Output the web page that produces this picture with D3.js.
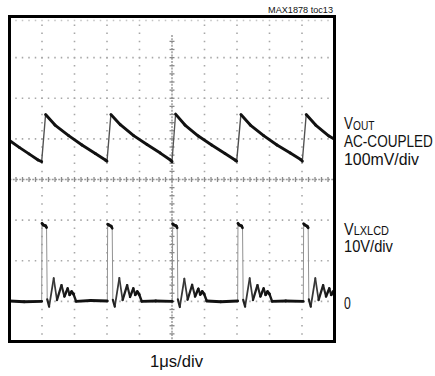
<!DOCTYPE html>
<html>
<head>
<meta charset="utf-8">
<script src="https://cdn.jsdelivr.net/npm/d3@7"></script>
<style>
  html, body { margin: 0; padding: 0; background: #fff; }
  svg { display: block; }
  text { font-family: "Liberation Sans Narrow", "Arial Narrow", "Liberation Sans", Arial, sans-serif; fill: #111; }
</style>
</head>
<body>
<div id="chart"></div>
<script>
// horizontal: 10 divisions of 1us
var timeDomain = [0, 10];
var divCountX = 10;
var divCountY = 8;

// VOUT ripple, AC coupled [time us, mV]
var voutTrace = [
  [0.00, -9], [0.30, -26], [0.60, -42], [0.88, -57], [0.99, -61],
  [1.11, 55], [1.40, 29], [1.82, 3], [2.23, -20], [2.64, -41], [2.95, -57], [3.00, -60],
  [3.12, 55], [3.41, 30], [3.82, 3], [4.23, -19], [4.64, -40], [4.95, -57], [5.00, -61],
  [5.11, 56], [5.40, 29], [5.81, 2], [6.22, -20], [6.63, -41], [6.94, -57], [6.99, -60],
  [7.12, 55], [7.41, 29], [7.82, 3], [8.23, -20], [8.64, -40], [8.96, -56], [9.01, -60],
  [9.13, 55], [9.42, 29], [9.83, 2], [10.00, -6]
];

// LXLCD switching node [time us, V]
var lxTrace = [
  [0.00, 0.1], [0.45, -0.1], [0.99, 0.0],
  [1.00, 19.2], [1.04, 18.8], [1.11, 18.6], [1.14, 18.2], [1.16, 0.5], [1.22, -1.3], [1.36, 5.7],
  [1.46, 0.3], [1.60, 4.0], [1.69, 1.2], [1.79, 3.2], [1.85, 1.6], [1.91, 2.4], [1.97, 1.8],
  [2.05, 0.0], [2.50, 0.2], [3.01, 0.1],
  [3.02, 19.0], [3.06, 18.8], [3.13, 18.5], [3.16, 18.0], [3.18, 0.4], [3.24, -1.3], [3.38, 5.8],
  [3.48, 0.3], [3.62, 4.0], [3.71, 1.1], [3.81, 3.2], [3.87, 1.6], [3.93, 2.4], [3.99, 1.7],
  [4.07, 0.0], [4.50, 0.1], [5.01, 0.0],
  [5.02, 19.1], [5.06, 18.8], [5.13, 18.6], [5.16, 18.1], [5.18, 0.5], [5.24, -1.4], [5.38, 5.6],
  [5.48, 0.4], [5.62, 4.1], [5.71, 1.2], [5.81, 3.1], [5.87, 1.7], [5.93, 2.4], [5.99, 1.8],
  [6.07, 0.1], [6.50, -0.1], [7.02, 0.1],
  [7.03, 19.2], [7.07, 18.8], [7.14, 18.6], [7.17, 18.1], [7.19, 0.4], [7.25, -1.3], [7.39, 5.7],
  [7.49, 0.3], [7.63, 4.0], [7.72, 1.2], [7.82, 3.2], [7.88, 1.6], [7.94, 2.4], [8.00, 1.8],
  [8.08, 0.0], [8.50, 0.1], [9.04, 0.0],
  [9.05, 19.1], [9.09, 18.8], [9.16, 18.5], [9.19, 18.1], [9.21, 0.5], [9.27, -1.3], [9.41, 5.7],
  [9.51, 0.3], [9.65, 4.0], [9.74, 1.2], [9.84, 3.2], [9.90, 1.6], [9.96, 2.4], [10.00, 2.0]
];

// channel settings: units per division, reference position in divisions from centre
var voutPerDiv = 100;
var voutRefDiv = 1.05;
var lxPerDiv = 10;
var lxRefDiv = -3;

var figureId = 'MAX1878 toc13';
var voutName = ['V', 'OUT'];
var voutNotes = ['AC-COUPLED', '100mV/div'];
var lxName = ['V', 'LXLCD'];
var lxNotes = ['10V/div'];
var groundLabel = '0';
var timeLabel = '1\u03bcs/div';

var width = 435;
var height = 376;
var screen = { left: 9.5, right: 334.5, top: 17, bottom: 342 };

var svg = d3.select('#chart').append('svg')
  .attr('width', width)
  .attr('height', height);

svg.append('rect').attr('width', width).attr('height', height).attr('fill', '#fff');

var x = d3.scaleLinear().domain(timeDomain).range([screen.left, screen.right]);
var yDiv = d3.scaleLinear().domain([-divCountY / 2, divCountY / 2]).range([screen.bottom, screen.top]);

function channelScale(perDiv, refDiv) {
  return d3.scaleLinear()
    .domain([(-divCountY / 2 - refDiv) * perDiv, (divCountY / 2 - refDiv) * perDiv])
    .range([screen.bottom, screen.top]);
}

var yVout = channelScale(voutPerDiv, voutRefDiv);
var yLx = channelScale(lxPerDiv, lxRefDiv);

var minorX = (screen.right - screen.left) / divCountX / 5;
var minorY = (screen.bottom - screen.top) / divCountY / 5;

// graticule
var grid = svg.append('g').attr('class', 'grid');
var xGrid = d3.range(1, divCountX).map(function (d) { return timeDomain[0] + d; });
var yGrid = d3.range(-divCountY / 2 + 1, divCountY / 2);

grid.selectAll('line.h')
  .data(yGrid.filter(function (d) { return d !== 0; }))
  .enter().append('line')
  .attr('x1', screen.left).attr('x2', screen.right)
  .attr('y1', function (d) { return yDiv(d); })
  .attr('y2', function (d) { return yDiv(d); })
  .attr('stroke', '#a8a8a8')
  .attr('stroke-width', 1.6)
  .attr('stroke-dasharray', '1.5 ' + (minorX - 1.5))
  .attr('stroke-dashoffset', 0.75);

grid.selectAll('line.v')
  .data(xGrid.filter(function (d) { return d !== 5; }))
  .enter().append('line')
  .attr('y1', screen.top).attr('y2', screen.bottom)
  .attr('x1', function (d) { return x(d); })
  .attr('x2', function (d) { return x(d); })
  .attr('stroke', '#a8a8a8')
  .attr('stroke-width', 1.6)
  .attr('stroke-dasharray', '1.5 ' + (minorY - 1.5))
  .attr('stroke-dashoffset', 0.75);

// minor marks just inside the top edge
grid.append('line')
  .attr('x1', screen.left).attr('x2', screen.right)
  .attr('y1', screen.top + 3.5).attr('y2', screen.top + 3.5)
  .attr('stroke', '#c4c4c4')
  .attr('stroke-width', 1.4)
  .attr('stroke-dasharray', '1.5 ' + (minorX - 1.5))
  .attr('stroke-dashoffset', 0.75);

// centre axes with tick marks
var cx = x(5);
var cy = yDiv(0);
grid.append('line')
  .attr('x1', screen.left).attr('x2', screen.right)
  .attr('y1', cy).attr('y2', cy)
  .attr('stroke', '#9a9a9a')
  .attr('stroke-width', 1.5)
  .attr('stroke-dasharray', '2 1.25');
grid.append('line')
  .attr('x1', cx).attr('x2', cx)
  .attr('y1', screen.top + 18).attr('y2', screen.bottom)
  .attr('stroke', '#9a9a9a')
  .attr('stroke-width', 1.5)
  .attr('stroke-dasharray', '2 1.25');

grid.selectAll('line.tx')
  .data(d3.range(1, divCountX * 5))
  .enter().append('line')
  .attr('x1', function (d) { return screen.left + d * minorX; })
  .attr('x2', function (d) { return screen.left + d * minorX; })
  .attr('y1', cy - 2.5).attr('y2', cy + 2.5)
  .attr('stroke', '#8a8a8a')
  .attr('stroke-width', 1.3);

grid.selectAll('line.ty')
  .data(d3.range(3, divCountY * 5))
  .enter().append('line')
  .attr('y1', function (d) { return screen.top + d * minorY; })
  .attr('y2', function (d) { return screen.top + d * minorY; })
  .attr('x1', cx - 2.5).attr('x2', cx + 2.5)
  .attr('stroke', '#8a8a8a')
  .attr('stroke-width', 1.3);

/**
 * Draws a trace segment by segment; fast edges come out thin and grey,
 * slow parts thick and dark, like phosphor intensity on the scope.
 */
var shade = d3.scaleLog().domain([80, 2000]).range(['#111', '#929292']).clamp(true);

function drawTrace(data, yScale) {
  var g = svg.append('g').attr('class', 'trace');
  var segs = d3.pairs(data).map(function (p) {
    var x0 = x(p[0][0]);
    var y0 = yScale(p[0][1]);
    var x1 = x(p[1][0]);
    var y1 = yScale(p[1][1]);
    var dt = Math.max(p[1][0] - p[0][0], 0.001);
    var speed = Math.sqrt((x1 - x0) * (x1 - x0) + (y1 - y0) * (y1 - y0)) / dt;
    return { x0: x0, y0: y0, x1: x1, y1: y1, speed: Math.max(speed, 1) };
  });
  // thin ones first so dark ones sit on top
  segs.sort(function (a, b) { return b.speed - a.speed; });
  g.selectAll('line')
    .data(segs)
    .enter().append('line')
    .attr('x1', function (d) { return d.x0; })
    .attr('y1', function (d) { return d.y0; })
    .attr('x2', function (d) { return d.x1; })
    .attr('y2', function (d) { return d.y1; })
    .attr('stroke', function (d) { return shade(d.speed); })
    .attr('stroke-width', function (d) {
      return Math.max(1, Math.min(2.9, 2.9 * Math.pow(60 / d.speed, 0.4)));
    })
    .attr('stroke-linecap', 'round');
}

drawTrace(voutTrace, yVout);
drawTrace(lxTrace, yLx);

// screen frame
svg.append('rect')
  .attr('x', screen.left).attr('y', screen.top - 0.5)
  .attr('width', screen.right - screen.left)
  .attr('height', screen.bottom - screen.top)
  .attr('fill', 'none')
  .attr('stroke', '#000')
  .attr('stroke-width', 3);

/**
 * Squeezes a text horizontally so it spans len pixels (the condensed face of the
 * original is not installed), anchored at its left or right end.
 */
function fit(t, px, py, len, anchor) {
  var natural = t.node().getComputedTextLength();
  var sx = len / natural;
  t.attr('x', 0).attr('y', 0)
    .attr('text-anchor', anchor || 'start')
    .attr('transform', 'translate(' + px + ',' + py + ') scale(' + sx + ',1)');
  return t;
}

function label(str, px, py, size, len, anchor) {
  var t = svg.append('text')
    .attr('font-size', size)
    .text(str);
  return fit(t, px, py, len, anchor);
}

// name with a smaller subscript on nearly the same baseline
function channelName(parts, px, py, len) {
  var t = svg.append('text').attr('font-size', 16.5);
  t.append('tspan').text(parts[0]);
  t.append('tspan').attr('font-size', 12.5).attr('dy', 0.8).text(parts[1]);
  return fit(t, px, py, len);
}

label(figureId, 333, 12.5, 8.5, 65, 'end');

channelName(voutName, 344, 129, 30.5);
label(voutNotes[0], 344, 146.5, 16.5, 89);
label(voutNotes[1], 344, 164.5, 16.5, 75);

channelName(lxName, 344, 234.5, 45);
label(lxNotes[0], 344, 251.7, 16.5, 49);

label(groundLabel, 344, 309, 16.5, 6.8);
label(timeLabel, 150, 366.5, 16.5, 53);
</script>
</body>
</html>
